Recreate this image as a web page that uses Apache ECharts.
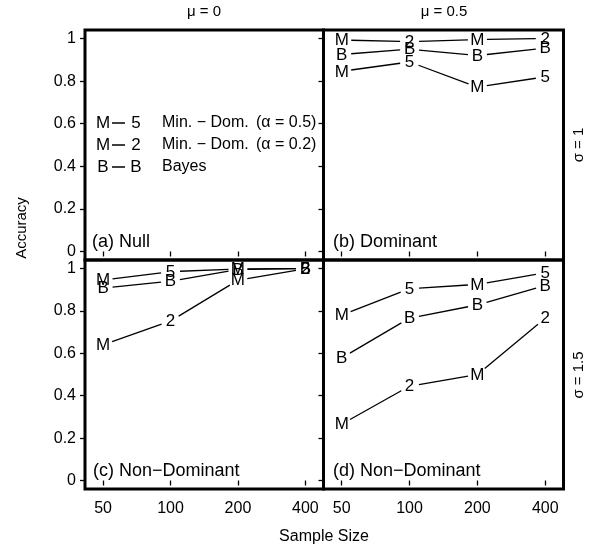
<!DOCTYPE html>
<html>
<head>
<meta charset="utf-8">
<script src="https://cdn.jsdelivr.net/npm/echarts@6/dist/echarts.min.js"></script>
<style>
  html, body { margin: 0; padding: 0; background: #fff; }
  #chart { width: 589px; height: 552px; }
</style>
</head>
<body>
<div id="chart"></div>
<script>
// sample sizes on the x axis
const sampleSizes = [50, 100, 200, 400]
const yTicks = [0, 0.2, 0.4, 0.6, 0.8, 1]

// plotting letters for each method
const marksA05 = ['M', '5', 'M', '5']
const marksA02 = ['M', '2', 'M', '2']
const marksBayes = ['B', 'B', 'B', 'B']

// (b) Dominant : mu = 0.5, sigma = 1
const domA05 = [0.846, 0.89, 0.772, 0.82]
const domA02 = [0.993, 0.985, 0.995, 1.0]
const domBayes = [0.925, 0.95, 0.92, 0.955]

// (c) Non-Dominant : mu = 0, sigma = 1.5
const nd0A05 = [0.945, 0.985, 0.998, 1.0]
const nd0A02 = [0.64, 0.752, 0.945, 0.998]
const nd0Bayes = [0.908, 0.94, 0.995, 1.0]

// (d) Non-Dominant : mu = 0.5, sigma = 1.5
const nd5A05 = [0.78, 0.905, 0.925, 0.98]
const nd5A02 = [0.266, 0.445, 0.5, 0.766]
const nd5Bayes = [0.578, 0.766, 0.828, 0.92]

const panelLabels = ['(a) Null', '(b) Dominant', '(c) Non\u2212Dominant', '(d) Non\u2212Dominant']
const colLabels = ['\u03bc = 0', '\u03bc = 0.5']
const rowLabels = ['\u03c3 = 1', '\u03c3 = 1.5']
const legendRows = [
  ['M', '5', 'Min. \u2212 Dom.', '(\u03b1 = 0.5)'],
  ['M', '2', 'Min. \u2212 Dom.', '(\u03b1 = 0.2)'],
  ['B', 'B', 'Bayes', '']
]

const FONT = 'Liberation Sans, Arial, sans-serif'
const GAP = 9.5

let chart = echarts.init(document.getElementById('chart'))

// panel boxes: a, b (top) c, d (bottom)
const boxes = [
  { left: 85, top: 30, width: 238.5, height: 230 },
  { left: 323.5, top: 30, width: 240, height: 230 },
  { left: 85, top: 260, width: 238.5, height: 229 },
  { left: 323.5, top: 260, width: 240, height: 229 }
]

function makeRender(values, marks) {
  return function (params, api) {
    const i = params.dataIndex
    const p = api.coord([sampleSizes[i], values[i]])
    const children = [{
      type: 'text',
      style: {
        text: marks[i], x: p[0], y: p[1] + 0.5,
        align: 'center', verticalAlign: 'middle',
        font: '17px ' + FONT, fill: '#000'
      }
    }]
    if (i < values.length - 1) {
      const q = api.coord([sampleSizes[i + 1], values[i + 1]])
      const dx = q[0] - p[0]
      const dy = q[1] - p[1]
      const len = Math.sqrt(dx * dx + dy * dy)
      if (len > GAP * 2) {
        const ux = dx / len
        const uy = dy / len
        children.push({
          type: 'line',
          shape: { x1: p[0] + ux * GAP, y1: p[1] + uy * GAP, x2: q[0] - ux * GAP, y2: q[1] - uy * GAP },
          style: { stroke: '#000', lineWidth: 1.3 }
        })
      }
    }
    return { type: 'group', children: children }
  }
}

function methodSeries(gridIndex, values, marks) {
  return {
    type: 'custom',
    xAxisIndex: gridIndex,
    yAxisIndex: gridIndex,
    data: sampleSizes.map((n, i) => [n, values[i]]),
    renderItem: makeRender(values, marks),
    silent: true
  }
}

const xAxes = boxes.map((b, g) => ({
  type: 'log',
  logBase: 2,
  gridIndex: g,
  min: 41.5,
  max: 482,
  axisLine: { show: false },
  splitLine: { show: false },
  minorTick: { show: false },
  axisTick: {
    show: true, customValues: sampleSizes, length: 5,
    lineStyle: { color: '#000', width: 1.3 }
  },
  axisLabel: {
    show: g >= 2, customValues: sampleSizes, color: '#000',
    fontSize: 16, fontFamily: FONT, margin: 12
  }
}))

const yAxes = boxes.map((b, g) => ({
  type: 'value',
  gridIndex: g,
  min: -0.04,
  max: 1.04,
  axisLine: { show: false },
  splitLine: { show: false },
  axisTick: {
    show: true, customValues: yTicks, length: 5,
    lineStyle: { color: '#000', width: 1.3 }
  },
  axisLabel: {
    show: g % 2 === 0, customValues: yTicks, color: '#000',
    fontSize: 16, fontFamily: FONT, margin: 9
  }
}))

const graphics = []
// panel captions
const capPos = [[92, 242], [333, 242], [93, 471], [333, 471]]
panelLabels.forEach((t, i) => {
  graphics.push({
    type: 'text', x: capPos[i][0], y: capPos[i][1],
    style: { text: t, font: '18px ' + FONT, fill: '#000', verticalAlign: 'middle' }
  })
})
// strip labels
colLabels.forEach((t, i) => {
  graphics.push({
    type: 'text', x: i === 0 ? 204 : 444, y: 12,
    style: { text: t, font: '15px ' + FONT, fill: '#000', align: 'center', verticalAlign: 'middle' }
  })
})
rowLabels.forEach((t, i) => {
  graphics.push({
    type: 'text', x: 579, y: i === 0 ? 145 : 375, rotation: Math.PI / 2,
    style: { text: t, font: '15px ' + FONT, fill: '#000', align: 'center', verticalAlign: 'middle' }
  })
})
// axis titles
graphics.push({
  type: 'text', x: 22, y: 228, rotation: Math.PI / 2,
  style: { text: 'Accuracy', font: '15px ' + FONT, fill: '#000', align: 'center', verticalAlign: 'middle' }
})
graphics.push({
  type: 'text', x: 324, y: 537,
  style: { text: 'Sample Size', font: '16px ' + FONT, fill: '#000', align: 'center', verticalAlign: 'middle' }
})
// key inside panel (a)
legendRows.forEach((r, i) => {
  const y = 123 + i * 22
  graphics.push({ type: 'text', x: 103, y: y, style: { text: r[0], font: '17px ' + FONT, fill: '#000', align: 'center', verticalAlign: 'middle' } })
  graphics.push({ type: 'line', shape: { x1: 112, y1: y, x2: 125, y2: y }, style: { stroke: '#000', lineWidth: 1.5 } })
  graphics.push({ type: 'text', x: 136, y: y, style: { text: r[1], font: '17px ' + FONT, fill: '#000', align: 'center', verticalAlign: 'middle' } })
  graphics.push({ type: 'text', x: 162, y: y, style: { text: r[2], font: '16px ' + FONT, fill: '#000', verticalAlign: 'middle' } })
  if (r[3]) {
    graphics.push({ type: 'text', x: 256, y: y, style: { text: r[3], font: '16px ' + FONT, fill: '#000', verticalAlign: 'middle' } })
  }
})

chart.setOption({
  animation: false,
  backgroundColor: '#fff',
  grid: boxes.map(b => Object.assign({
    show: true, borderColor: '#000', borderWidth: 3, backgroundColor: 'transparent',
    containLabel: false
  }, b)),
  xAxis: xAxes,
  yAxis: yAxes,
  graphic: graphics,
  series: [
    methodSeries(1, domA02, marksA02),
    methodSeries(1, domBayes, marksBayes),
    methodSeries(1, domA05, marksA05),
    methodSeries(2, nd0A02, marksA02),
    methodSeries(2, nd0Bayes, marksBayes),
    methodSeries(2, nd0A05, marksA05),
    methodSeries(3, nd5A02, marksA02),
    methodSeries(3, nd5Bayes, marksBayes),
    methodSeries(3, nd5A05, marksA05)
  ]
})
</script>
</body>
</html>
